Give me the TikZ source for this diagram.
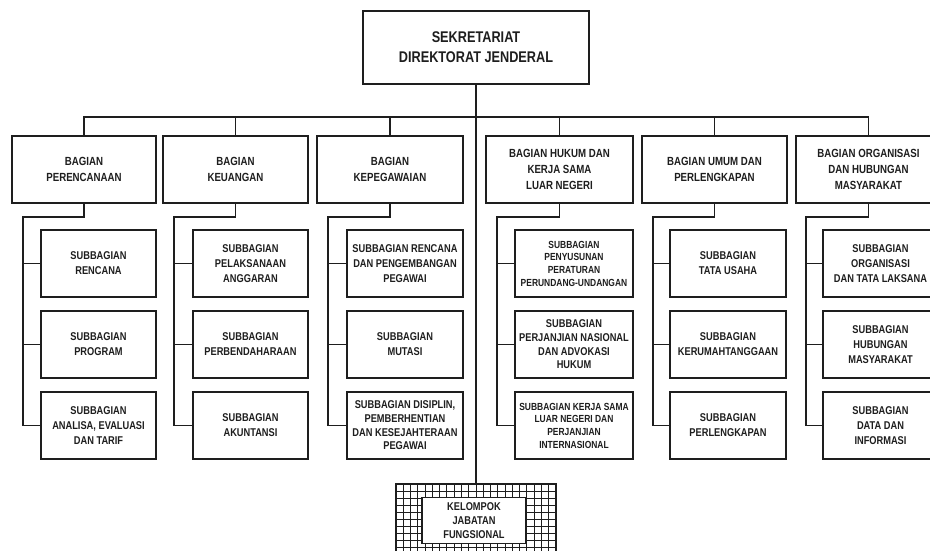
\documentclass[tikz,border=0pt]{standalone}
\usepackage{fontspec}
\setmainfont[FakeStretch=0.82]{Liberation Sans}
\definecolor{ink}{HTML}{1E1E1E}
\begin{document}
\begin{tikzpicture}[x=1pt,y=-1pt,
  ln/.style={line width=1.7pt,draw=ink},
  gl/.style={line width=0.9pt,draw=ink},
  bx/.style={draw=ink,line width=1.7pt,align=center,inner sep=0pt,text=ink,fill=white},
  topf/.style={font=\fontsize{15.5}{20}\selectfont\bfseries},
  lvf/.style={font=\fontsize{11.8}{16}\selectfont\bfseries},
  sbf/.style={font=\fontsize{11.3}{15}\selectfont\bfseries},
  dnf/.style={font=\fontsize{11.3}{13.7}\selectfont\bfseries},
  smf/.style={font=\fontsize{10.3}{12.7}\selectfont\bfseries},
  lv/.style={bx,lvf,minimum height=67pt},
  sb/.style={bx,sbf,minimum height=67pt}]
\useasboundingbox (0,0) rectangle (930,550);
\clip (0,0) rectangle (930,550);
\fill[white] (0,0) rectangle (930,550);

% top
\node[bx,topf,minimum width=226pt,minimum height=73pt] (top) at (476,47.5) {SEKRETARIAT\\DIREKTORAT JENDERAL};

% level 1
\node[lv,minimum width=144pt] (b1) at (84,169.5) {BAGIAN\\PERENCANAAN};
\node[lv,minimum width=145pt] (b2) at (235.5,169.5) {BAGIAN\\KEUANGAN};
\node[lv,minimum width=146pt] (b3) at (390,169.5) {BAGIAN\\KEPEGAWAIAN};
\node[lv,minimum width=147pt] (b4) at (559.5,169.5) {BAGIAN HUKUM DAN\\KERJA SAMA\\LUAR NEGERI};
\node[lv,minimum width=145pt] (b5) at (714.5,169.5) {BAGIAN UMUM DAN\\PERLENGKAPAN};
\node[lv,minimum width=145pt] (b6) at (868.5,169.5) {BAGIAN ORGANISASI\\DAN HUBUNGAN\\MASYARAKAT};

% column 1
\node[sb,minimum width=115pt] (s11) at (98.5,263.5) {SUBBAGIAN\\RENCANA};
\node[sb,minimum width=115pt] (s12) at (98.5,344.5) {SUBBAGIAN\\PROGRAM};
\node[sb,minimum width=115pt] (s13) at (98.5,425.5) {SUBBAGIAN\\ANALISA, EVALUASI\\DAN TARIF};
% column 2
\node[sb,minimum width=115pt] (s21) at (250.5,263.5) {SUBBAGIAN\\PELAKSANAAN\\ANGGARAN};
\node[sb,minimum width=115pt] (s22) at (250.5,344.5) {SUBBAGIAN\\PERBENDAHARAAN};
\node[sb,minimum width=115pt] (s23) at (250.5,425.5) {SUBBAGIAN\\AKUNTANSI};
% column 3
\node[sb,minimum width=116pt] (s31) at (405,263.5) {SUBBAGIAN RENCANA\\DAN PENGEMBANGAN\\PEGAWAI};
\node[sb,minimum width=116pt] (s32) at (405,344.5) {SUBBAGIAN\\MUTASI};
\node[sb,dnf,minimum width=116pt] (s33) at (405,425.5) {SUBBAGIAN DISIPLIN,\\PEMBERHENTIAN\\DAN KESEJAHTERAAN\\PEGAWAI};
% column 4
\node[sb,smf,minimum width=118pt] (s41) at (574,263.5) {SUBBAGIAN\\PENYUSUNAN\\PERATURAN\\PERUNDANG-UNDANGAN};
\node[sb,dnf,minimum width=118pt] (s42) at (574,344.5) {SUBBAGIAN\\PERJANJIAN NASIONAL\\DAN ADVOKASI\\HUKUM};
\node[sb,smf,minimum width=118pt] (s43) at (574,425.5) {SUBBAGIAN KERJA SAMA\\LUAR NEGERI DAN\\PERJANJIAN\\INTERNASIONAL};
% column 5
\node[sb,minimum width=116pt] (s51) at (728,263.5) {SUBBAGIAN\\TATA USAHA};
\node[sb,minimum width=116pt] (s52) at (728,344.5) {SUBBAGIAN\\KERUMAHTANGGAAN};
\node[sb,minimum width=116pt] (s53) at (728,425.5) {SUBBAGIAN\\PERLENGKAPAN};
% column 6
\node[sb,minimum width=115pt] (s61) at (880.5,263.5) {SUBBAGIAN\\ORGANISASI\\DAN TATA LAKSANA};
\node[sb,minimum width=115pt] (s62) at (880.5,344.5) {SUBBAGIAN\\HUBUNGAN\\MASYARAKAT};
\node[sb,minimum width=115pt] (s63) at (880.5,425.5) {SUBBAGIAN\\DATA DAN\\INFORMASI};

% kelompok jabatan fungsional
\node[draw=ink,line width=1.7pt,minimum width=160pt,minimum height=80pt,inner sep=0pt] (kel) at (476,524) {};
\begin{scope}
\clip (396,484) rectangle (556,564);
\foreach \i in {1,...,21} \draw[gl] (396+\i*7.27,484) -- (396+\i*7.27,564);
\foreach \j in {1,...,10} \draw[gl] (396,484+\j*7.0) -- (556,484+\j*7.0);
\end{scope}
\node[draw=ink,line width=1.7pt,minimum width=160pt,minimum height=80pt,inner sep=0pt] at (kel) {};
\node[bx,font=\fontsize{11.3}{14}\selectfont\bfseries,minimum width=104pt,minimum height=46pt] (kin) at (474,520.5) {KELOMPOK\\JABATAN\\FUNGSIONAL};

% junction coordinates
\coordinate (bus) at (475,117);
\coordinate (j1) at (23,217);
\coordinate (j2) at (174,217);
\coordinate (j3) at (328,217);
\coordinate (j4) at (497,217);
\coordinate (j5) at (653,217);
\coordinate (j6) at (806,217);

% connectors
\draw[ln] (top.south) -- (kel.north);
\draw[ln] (b1.north) |- (bus) -- (bus -| b6.north) -- (b6.north);
\foreach \b in {b2,b3,b4,b5} \draw[ln] (\b.north) -- (\b.north |- bus);

\foreach \c in {1,...,6}{
  \draw[ln] (b\c.south) |- (j\c) |- (s\c3.west);
  \draw[ln] (s\c1.west) -- (s\c1.west -| j\c);
  \draw[ln] (s\c2.west) -- (s\c2.west -| j\c);
}
\end{tikzpicture}
\end{document}
